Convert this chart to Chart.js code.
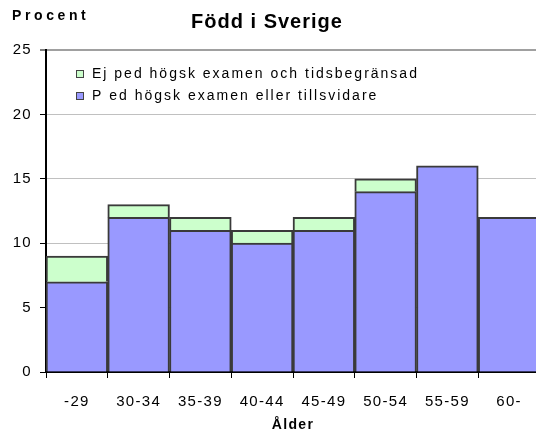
<!DOCTYPE html>
<html>
<head>
<meta charset="utf-8">
<script src="https://cdn.jsdelivr.net/npm/chart.js@4"></script>
<style>
html,body{margin:0;padding:0;background:#fff;overflow:hidden;}
#wrap{width:540px;height:434px;}
</style>
</head>
<body>
<div id="wrap"><canvas id="c" width="540" height="434"></canvas></div>
<script>
const categories = ['-29','30-34','35-39','40-44','45-49','50-54','55-59','60-'];
const pedValues = [7, 12, 11, 10, 11, 14, 16, 12];
const ejPedValues = [2, 1, 1, 1, 1, 1, 0, 0];
const seriesLabels = ['P ed högsk examen eller tillsvidare', 'Ej ped högsk examen och tidsbegränsad'];
const yTicks = [0, 5, 10, 15, 20, 25];
const chartTitle = 'Född i Sverige';
const yTitle = 'Procent';
const xTitle = 'Ålder';

const FONT = '"Liberation Sans", Arial, sans-serif';

const textPlugin = {
  id: 'textPlugin',
  beforeLayout(chart){ chart.ctx.letterSpacing = '1.3px'; },
  beforeDraw(chart){ chart.ctx.letterSpacing = '1.3px'; },
  afterDraw(chart){
    const ctx = chart.ctx;
    ctx.save();
    ctx.fillStyle = '#000';
    ctx.textBaseline = 'middle';
    // title
    ctx.letterSpacing = '1px';
    ctx.font = 'bold 20px ' + FONT;
    ctx.textAlign = 'center';
    ctx.fillText(chartTitle, 267, 22);
    // y title
    ctx.letterSpacing = '3.6px';
    ctx.font = 'bold 14px ' + FONT;
    ctx.textAlign = 'left';
    ctx.fillText(yTitle, 12, 16);
    // legend (reverse order: top series first)
    ctx.letterSpacing = '2px';
    ctx.font = '14px ' + FONT;
    const items = chart.data.datasets.slice().reverse();
    items.forEach((ds, i) => {
      const y = 74 + i * 22;
      ctx.fillStyle = ds.backgroundColor;
      ctx.fillRect(76, y - 4, 8, 8);
      ctx.strokeStyle = '#444';
      ctx.lineWidth = 1;
      ctx.strokeRect(76.5, y - 3.5, 7, 7);
      ctx.fillStyle = '#000';
      ctx.fillText(ds.label, 92, y);
    });
    ctx.restore();
  }
};

new Chart(document.getElementById('c'), {
  type: 'bar',
  data: {
    labels: categories,
    datasets: [
      { label: seriesLabels[0], data: pedValues, backgroundColor: '#9999FF', borderColor: '#3a3a3a', borderWidth: 2, barPercentage: 1, categoryPercentage: 1 },
      { label: seriesLabels[1], data: ejPedValues, backgroundColor: '#CCFFCC', borderColor: '#3a3a3a', borderWidth: 2, barPercentage: 1, categoryPercentage: 1 }
    ]
  },
  options: {
    responsive: false,
    animation: false,
    devicePixelRatio: 1,
    layout: { padding: { top: 50, right: 0, left: 0, bottom: 0 } },
    plugins: { legend: { display: false }, title: { display: false }, tooltip: { enabled: false } },
    scales: {
      x: {
        stacked: true,
        offset: true,
        grid: { display: true, drawOnChartArea: false, drawTicks: true, tickLength: 6, tickColor: '#000', tickWidth: 1 },
        border: { color: '#000', width: 2 },
        ticks: { color: '#000', font: { family: FONT, size: 15 }, padding: 15, maxRotation: 0, autoSkip: false },
        title: { display: true, text: xTitle, color: '#000', font: { family: FONT, size: 14, weight: 'bold' }, padding: { top: 6, bottom: 0 } },
        afterFit(s){ s.height = 62; }
      },
      y: {
        stacked: true,
        min: 0, max: 25,
        afterBuildTicks(s){ s.ticks = yTicks.map(v => ({ value: v })); },
        grid: {
          color: c => c.tick && c.tick.value === 25 ? '#a0a0a0' : '#c0c0c0',
          lineWidth: c => c.tick && c.tick.value === 25 ? 2 : 1,
          drawTicks: true, tickLength: 6, tickColor: '#000', tickWidth: 1
        },
        border: { color: '#000', width: 2 },
        ticks: { color: '#000', font: { family: FONT, size: 15 }, padding: 8 },
        afterFit(s){ s.width = 46; }
      }
    }
  },
  plugins: [textPlugin]
});
</script>
</body>
</html>
